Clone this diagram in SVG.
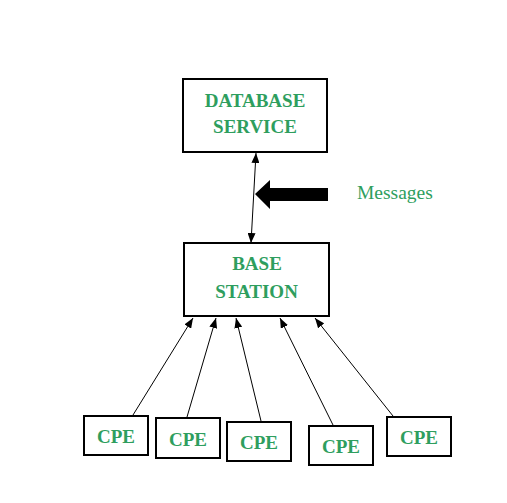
<svg xmlns="http://www.w3.org/2000/svg" width="507" height="503" viewBox="0 0 507 503">
<style>
.box{fill:#fff;stroke:#000;stroke-width:2}
.t{font-family:'Liberation Serif','DejaVu Serif','Times New Roman',serif;font-weight:bold;font-size:19px;fill:#2e9e5e;text-anchor:middle}
.m{font-family:'Liberation Serif','DejaVu Serif','Times New Roman',serif;font-size:19.5px;fill:#2e9e5e}
.c{stroke:#000;stroke-width:1;fill:none}
</style>
<defs>
<marker id="ah" viewBox="0 0 10 8" refX="10" refY="4" markerWidth="10" markerHeight="8" markerUnits="userSpaceOnUse" orient="auto-start-reverse">
<path d="M0,0 L10,4 L0,8 Z" fill="#000"/>
</marker>
</defs>
<rect width="507" height="503" fill="#fff"/>
<g id="connectors">
<line class="c" x1="256" y1="153" x2="251" y2="243" marker-start="url(#ah)" marker-end="url(#ah)"/>
<polygon points="255,194 270,180 270,188 328,188 328,201 270,201 270,209" fill="#000"/>
<line class="c" x1="133" y1="415" x2="193" y2="318" marker-end="url(#ah)"/>
<line class="c" x1="187" y1="417" x2="216" y2="318" marker-end="url(#ah)"/>
<line class="c" x1="261" y1="421" x2="236" y2="318" marker-end="url(#ah)"/>
<line class="c" x1="333" y1="425" x2="280" y2="318" marker-end="url(#ah)"/>
<line class="c" x1="393" y1="416" x2="315" y2="318" marker-end="url(#ah)"/>
</g>
<g id="database">
<rect class="box" x="183" y="79" width="144" height="73"/>
<text class="t" x="255" y="107">DATABASE</text>
<text class="t" x="255" y="133">SERVICE</text>
</g>
<g id="messages">
<text class="m" x="357" y="199">Messages</text>
</g>
<g id="base">
<rect class="box" x="184" y="243" width="145" height="73"/>
<text class="t" x="257" y="270">BASE</text>
<text class="t" x="256.5" y="298">STATION</text>
</g>
<g id="cpe1">
<rect class="box" x="84" y="416" width="64" height="39"/>
<text class="t" x="116" y="443">CPE</text>
</g>
<g id="cpe2">
<rect class="box" x="156" y="418" width="64" height="40"/>
<text class="t" x="188" y="446">CPE</text>
</g>
<g id="cpe3">
<rect class="box" x="227" y="422" width="64" height="39"/>
<text class="t" x="259" y="449">CPE</text>
</g>
<g id="cpe4">
<rect class="box" x="309" y="426" width="64" height="39"/>
<text class="t" x="341" y="453">CPE</text>
</g>
<g id="cpe5">
<rect class="box" x="387" y="417" width="64" height="39"/>
<text class="t" x="419" y="444">CPE</text>
</g>
</svg>
